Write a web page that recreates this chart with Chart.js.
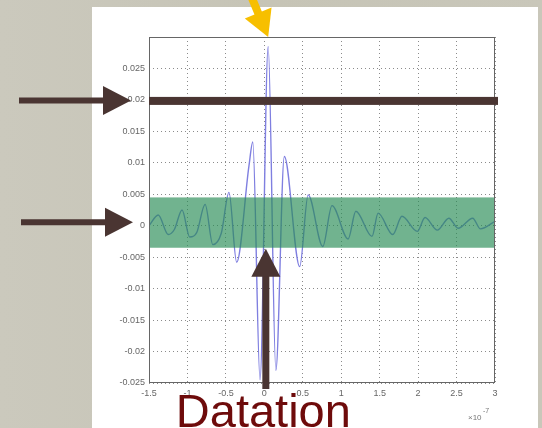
<!DOCTYPE html>
<html>
<head>
<meta charset="utf-8">
<script src="https://cdn.jsdelivr.net/npm/chart.js@4"></script>
<style>
html, body { margin: 0; padding: 0; background: #c9c7ba; }
#wrap { width: 542px; height: 428px; }
</style>
</head>
<body>
<div id="wrap"><canvas id="grafico" width="542" height="428"></canvas></div>
<script>
// Señal medida (eje x en unidades de 1e-7)
const sigX = [-1.50, -1.38, -1.25, -1.17, -1.07, -0.97, -0.88, -0.77, -0.67, -0.56, -0.46, -0.36,
              -0.20, -0.15, -0.056, 0.05, 0.15, 0.26, 0.46, 0.57, 0.76, 0.88, 1.09, 1.19,
              1.40, 1.48, 1.67, 1.79, 1.99, 2.09, 2.25, 2.40, 2.52, 2.71, 2.81, 3.00];
const sigY = [0.0000, 0.0017, -0.0014, -0.0006, 0.0025, -0.0018, -0.0011, 0.0034, -0.0030, -0.0012, 0.0053, -0.0058,
              0.0095, 0.0133, -0.0245, 0.0285, -0.0230, 0.0110, -0.0065, 0.0049, -0.0033, 0.0032, -0.0021, 0.0023,
              -0.0017, 0.0020, -0.0014, 0.0015, -0.0009, 0.0013, -0.0007, 0.0012, -0.0004, 0.0012, -0.0005, 0.0007];

// Límites de ejes y marcas
const xMin = -1.5, xMax = 3, xStep = 0.5;
const yMin = -0.025, yMax = 0.03, yStep = 0.005;

// Anotaciones (en unidades de datos)
const bandaAlta = 0.0045;
const bandaBaja = -0.0035;
const umbral = 0.02;
const etiqueta = 'Datation';
const exponente = '-7';

function flecha(ctx, x0, y0, x1, y1, grosor, largoPunta, anchoPunta, color) {
    const dx = x1 - x0, dy = y1 - y0;
    const len = Math.hypot(dx, dy);
    const ux = dx / len, uy = dy / len;
    const bx = x1 - ux * largoPunta, by = y1 - uy * largoPunta;
    ctx.save();
    ctx.strokeStyle = color;
    ctx.fillStyle = color;
    ctx.lineWidth = grosor;
    ctx.lineCap = 'butt';
    ctx.beginPath();
    ctx.moveTo(x0, y0);
    ctx.lineTo(bx + ux, by + uy);
    ctx.stroke();
    ctx.beginPath();
    ctx.moveTo(x1, y1);
    ctx.lineTo(bx - uy * anchoPunta / 2, by + ux * anchoPunta / 2);
    ctx.lineTo(bx + uy * anchoPunta / 2, by - ux * anchoPunta / 2);
    ctx.closePath();
    ctx.fill();
    ctx.restore();
}

// Fondo gris tipo piedra y panel blanco
const fondo = {
    id: 'fondo',
    beforeDraw(chart) {
        const ctx = chart.ctx;
        ctx.save();
        const g = ctx.createLinearGradient(0, 0, 542, 0);
        g.addColorStop(0, '#cbc9bd');
        g.addColorStop(0.5, '#c6c4b6');
        g.addColorStop(1, '#c9c7ba');
        ctx.fillStyle = g;
        ctx.fillRect(0, 0, chart.width, chart.height);
        ctx.fillStyle = '#ffffff';
        ctx.fillRect(92, 7, 446, chart.height - 7);
        ctx.restore();
    }
};

// Banda verde, umbral, flechas y texto
const anotaciones = {
    id: 'anotaciones',
    afterDraw(chart) {
        const ctx = chart.ctx;
        const a = chart.chartArea;
        const xs = chart.scales.x, ys = chart.scales.y;
        const y0 = ys.getPixelForValue(0);
        const x0 = xs.getPixelForValue(0);
        const yU = ys.getPixelForValue(umbral);
        ctx.save();

        // banda verde semitransparente
        const yA = ys.getPixelForValue(bandaAlta), yB = ys.getPixelForValue(bandaBaja);
        ctx.fillStyle = 'rgba(40, 140, 85, 0.66)';
        ctx.fillRect(a.left, yA, a.right - a.left, yB - yA);

        // marco de los ejes
        ctx.strokeStyle = '#666';
        ctx.lineWidth = 1;
        ctx.strokeRect(a.left + 0.5, a.top + 0.5, a.right - a.left - 1, a.bottom - a.top - 1);

        // línea del umbral
        ctx.fillStyle = '#4a3532';
        ctx.fillRect(a.left, yU - 3, a.right - a.left + 3, 8);

        // flechas
        flecha(ctx, 19, yU + 0.5, 131, yU + 0.5, 6, 28, 29, '#4a3532');
        flecha(ctx, 21, y0 - 3.5, 133, y0 - 3.5, 6, 28, 29, '#4a3532');
        flecha(ctx, x0 + 1.5, 389, x0 + 1.5, yB + 1, 7, 28, 29, '#4a3532');
        flecha(ctx, 249, -9, xs.getPixelForValue(0.05), a.top, 8, 26, 29, '#f7bf00');

        // texto
        ctx.fillStyle = '#6e0b0b';
        ctx.font = '47px "Liberation Sans", Arial, sans-serif';
        ctx.textAlign = 'center';
        ctx.textBaseline = 'alphabetic';
        ctx.fillText(etiqueta, x0 - 1, 427);

        // multiplicador del eje x
        ctx.fillStyle = '#777';
        ctx.textAlign = 'left';
        ctx.font = '8px "Liberation Sans", Arial, sans-serif';
        ctx.fillText('\u00d710', 468, 420);
        ctx.font = '7px "Liberation Sans", Arial, sans-serif';
        ctx.fillText(exponente, 483, 413);
        ctx.restore();
    }
};

const rejilla = {
    color: 'rgba(90, 90, 90, 0.7)',
    lineWidth: 1,
    drawTicks: false
};

new Chart(document.getElementById('grafico'), {
    type: 'scatter',
    data: {
        datasets: [{
            data: sigX.map((x, i) => ({ x: x, y: sigY[i] })),
            showLine: true,
            borderColor: '#7f7fe0',
            borderWidth: 1.4,
            pointRadius: 0,
            cubicInterpolationMode: 'monotone'
        }]
    },
    options: {
        responsive: false,
        animation: false,
        layout: { padding: { left: 0, top: 37, right: 47, bottom: 0 } },
        plugins: {
            legend: { display: false },
            tooltip: { enabled: false }
        },
        scales: {
            x: {
                type: 'linear',
                min: xMin,
                max: xMax,
                grid: rejilla,
                border: { display: false, dash: [1, 3] },
                ticks: {
                    stepSize: xStep,
                    padding: 5,
                    color: '#666',
                    font: { family: '"Liberation Sans", Arial, sans-serif', size: 9 },
                    callback: v => String(Number(v.toFixed(2)))
                },
                afterFit: s => { s.height = 45; }
            },
            y: {
                type: 'linear',
                min: yMin,
                max: yMax,
                grid: rejilla,
                border: { display: false, dash: [1, 3] },
                ticks: {
                    stepSize: yStep,
                    padding: 4,
                    color: '#666',
                    font: { family: '"Liberation Sans", Arial, sans-serif', size: 9 },
                    callback: v => (Math.abs(v - yMax) < 1e-9 ? '' : String(Number(v.toFixed(3))))
                },
                afterFit: s => { s.width = 149; }
            }
        }
    },
    plugins: [fondo, anotaciones]
});
</script>
</body>
</html>
